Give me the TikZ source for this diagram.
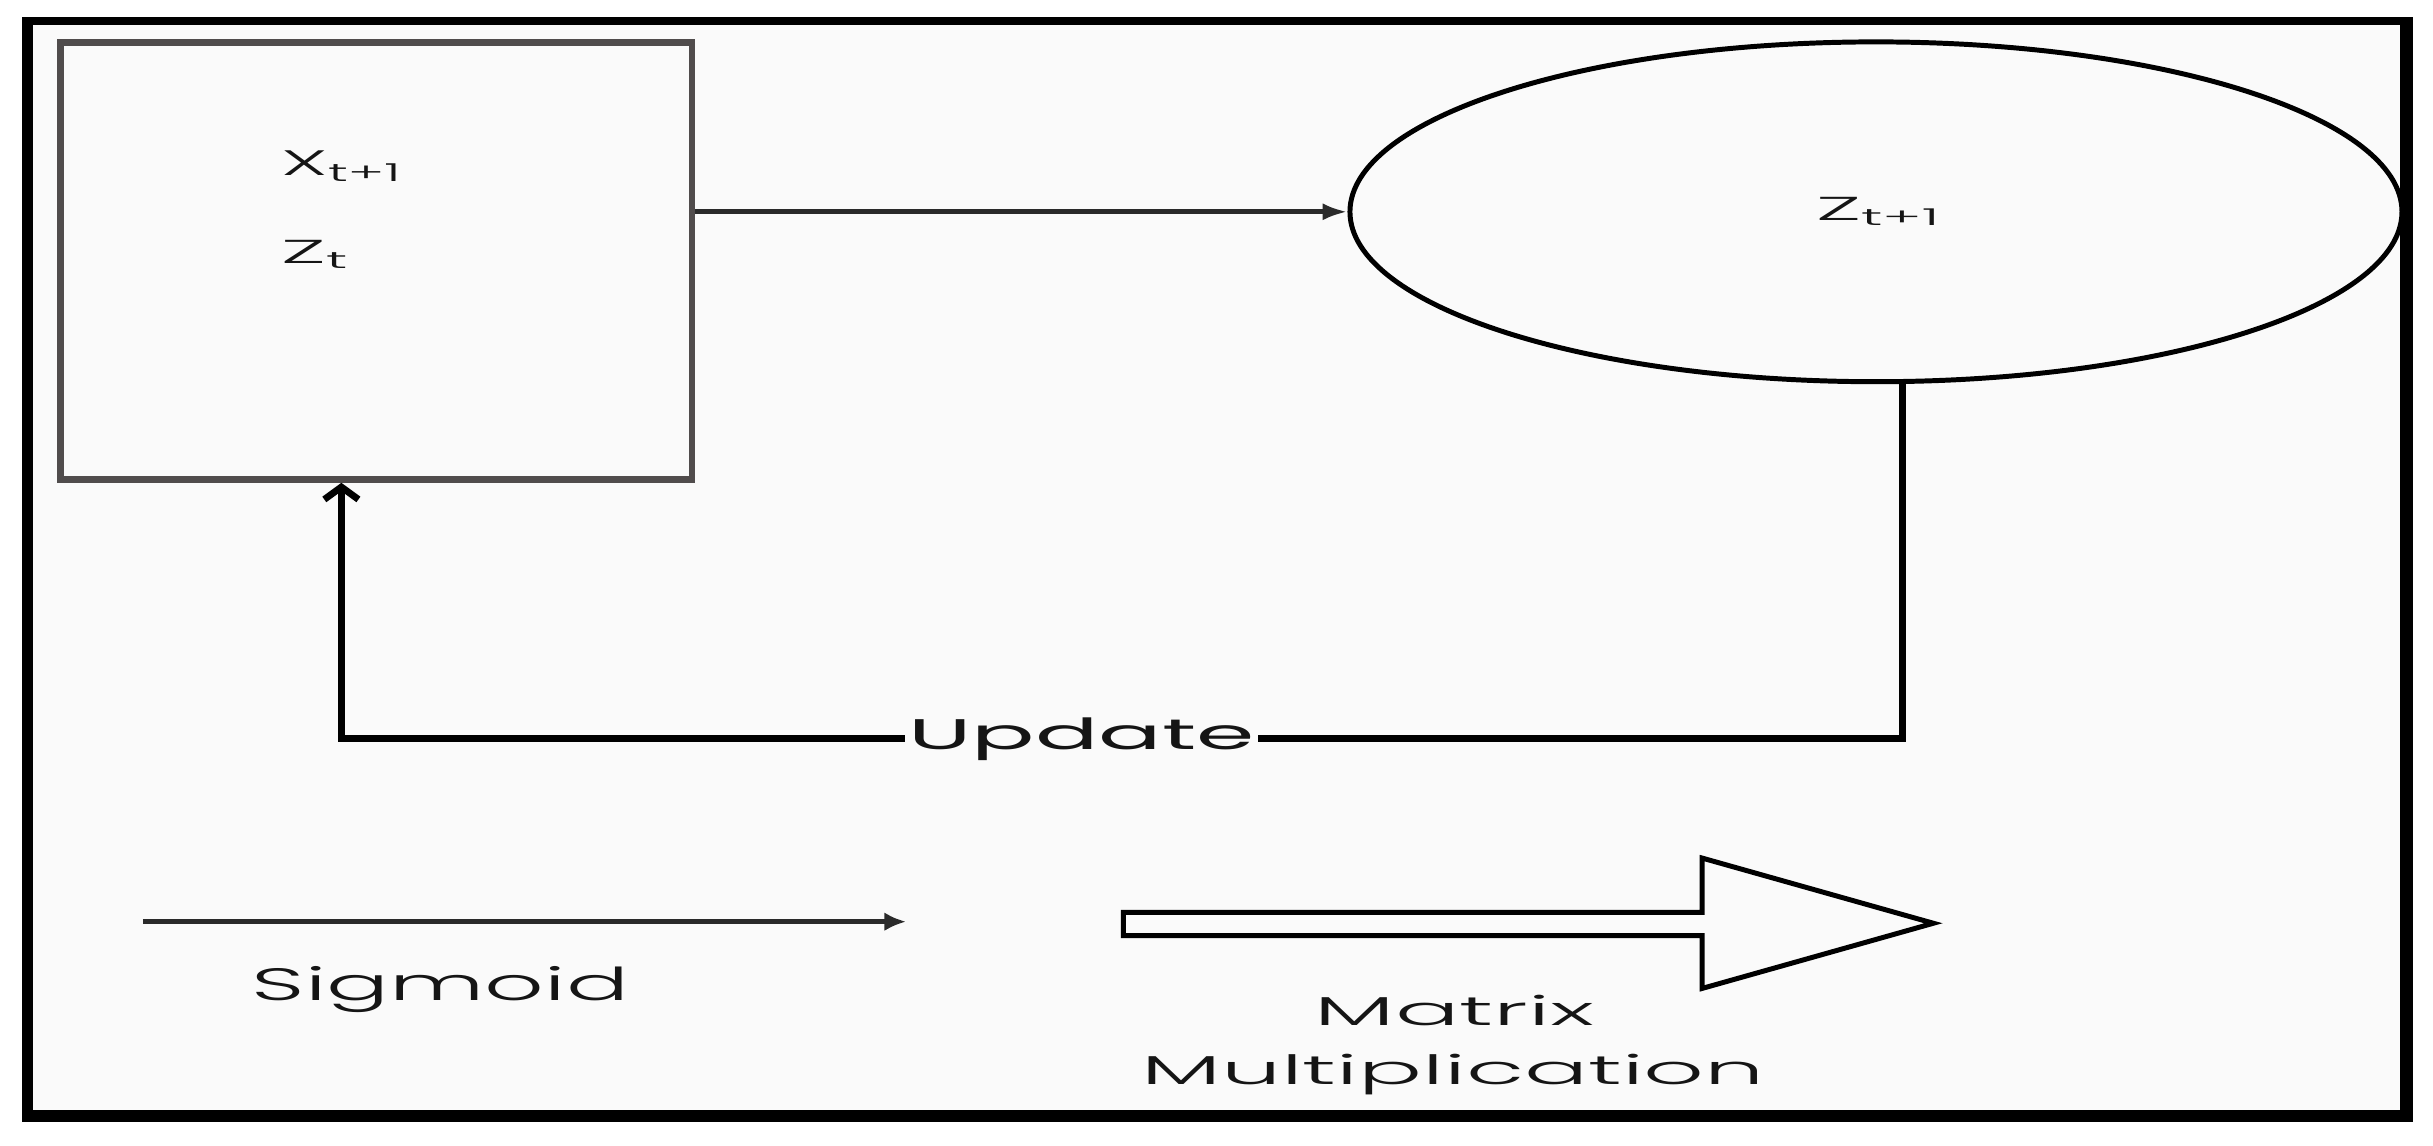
\documentclass[tikz,border=0pt]{standalone}
\usepackage{fontspec}
\setmainfont{Poppins}
\newfontfamily\lightfont{Poppins Light}
\usepackage{graphicx}
\usetikzlibrary{arrows.meta,shapes.geometric}
\definecolor{bg}{HTML}{FAFAFA}
\definecolor{boxgray}{HTML}{504C4C}
\definecolor{ink}{HTML}{151515}
\definecolor{arrowgray}{HTML}{2A2A2A}
\newcommand{\wtext}[3]{{\fontsize{#1}{#1}\selectfont\resizebox{#2pt}{\height}{#3}}}
\begin{document}
\begin{tikzpicture}[x=0.5pt,y=-0.5pt,
  txt/.style={inner sep=0pt, anchor=base west, text=ink},
  conn/.style={line width=2.2pt, draw=black},
  thin/.style={line width=1.5pt, draw=arrowgray}]
\useasboundingbox (0,0) rectangle (1568,738);
\fill[white] (0,0) rectangle (1568,738);
\fill[black] (14.2,11) rectangle (1555,723);
\fill[bg] (21.3,16) rectangle (1546.7,715.3);
% nodes
\node[draw=boxgray, line width=2.15pt, minimum width=203.5pt, minimum height=140.7pt, inner sep=0pt] (box) at (242.5,168.3) {};
\node[ellipse, draw=black, line width=1.6pt, minimum width=339pt, minimum height=109.5pt, inner sep=0pt] (el) at (1209,136.5) {};
\node[txt] (xl) at (181,113) {\lightfont\wtext{11.4}{39.5}{X\textsubscript{t+1}}};
\node[txt] (zl) at (181,169.5) {\lightfont\wtext{10.7}{22.5}{Z\textsubscript{t}}};
\node[txt] (zn) at (1170,142) {\lightfont\wtext{10.7}{41}{Z\textsubscript{t+1}}};
\node[txt] (upd) at (585,483) {\wtext{13.8}{111.5}{Update}};
\node[txt] (sig) at (162,644.5) {\lightfont\wtext{14.6}{121.5}{Sigmoid}};
\node[txt] (mat) at (847,660.6) {\lightfont\wtext{13}{90}{Matrix}};
\node[txt] (mul) at (735,699) {\lightfont\wtext{13}{201}{Multiplication}};
% connectors
\draw[thin, -{Latex[length=8pt,width=5.5pt]}] (box.east |- el.west) -- (el.west);
\coordinate (c1) at (1226,476);
\coordinate (c2) at (220,476);
\draw[conn] (el.south -| c1) -- (c1) -- ([xshift=1pt]upd.east |- c1);
\draw[conn, -{Straight Barb[length=4pt,width=11pt]}] ([xshift=-1pt]upd.west |- c2) -- (c2) -- (box.south -| c2);
% legend
\coordinate (s1) at (92,594);
\coordinate (s2) at (584,594);
\draw[thin, line width=1.7pt, -{Latex[length=7pt,width=6pt]}] (s1) -- (s2);
\draw[line width=1.6pt, line join=miter] (724,588) -- (1097,588) -- (1097,553) -- (1246,595) -- (1097,637) -- (1097,603) -- (724,603) -- cycle;
\end{tikzpicture}
\end{document}
